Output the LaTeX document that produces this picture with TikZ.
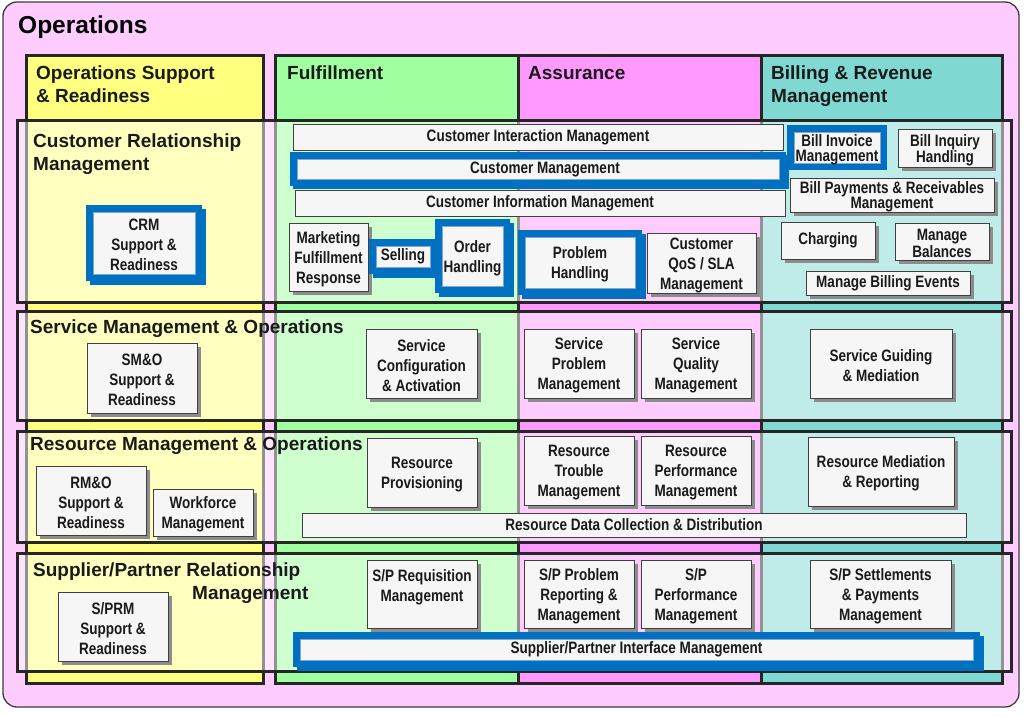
\documentclass[tikz,border=0pt]{standalone}
\usepackage{fontspec}
\setmainfont{Liberation Sans}
\newfontfamily\narrowfont{Liberation Sans}[FakeStretch=0.82]
\usetikzlibrary{shadows}
\definecolor{outerc}{HTML}{FFCCFF}
\definecolor{osrc}{HTML}{FFFF80}
\definecolor{fulc}{HTML}{A0FFA0}
\definecolor{assc}{HTML}{FF99FF}
\definecolor{billc}{HTML}{7FD8D2}
\definecolor{linec}{HTML}{262626}
\definecolor{boxline}{HTML}{404040}
\definecolor{boxfill}{HTML}{F6F6F6}
\definecolor{shadowc}{HTML}{8C8C8C}
\definecolor{textc}{HTML}{1A1A1A}
\definecolor{bluec}{HTML}{0070C0}
\definecolor{wline}{HTML}{7FA8D8}
\newcommand\nfont{\narrowfont\bfseries\fontsize{16.5}{20}\selectfont}
\newcommand\tfont{\narrowfont\bfseries\fontsize{16.5}{15}\selectfont}
\let\curfont\nfont
\def\curshift{-2pt}
\newcommand\bx[7][pbox]{%
  \global\let\curfont\nfont \gdef\curshift{-2pt}%
  \node[#1,minimum width={(#5-#3)*1pt},minimum height={(#6-#4)*1pt}] (#2) at ({(#3+#5)/2},{(#4+#6)/2}) {};
  \node[btext,font=\curfont] (#2-t) at ([yshift=\curshift]#2.center) {#7};}
\newcommand\bbx[8][wbox]{%
  \global\let\curfont\nfont \gdef\curshift{-2pt}%
  \fill[bluec] ({#3-7},{#4-7}) rectangle ({#5+7},{#6+7});
  \fill[bluec] ({#3-7+#8},{#4-7+#8}) rectangle ({#5+7+#8},{#6+7+#8});
  \node[#1,minimum width={(#5-#3)*1pt},minimum height={(#6-#4)*1pt}] (#2) at ({(#3+#5)/2},{(#4+#6)/2}) {};
  \node[btext,font=\curfont] (#2-t) at ([yshift=\curshift]#2.center) {#7};}
\begin{document}
\begin{tikzpicture}[x=1pt,y=-1pt,
  colbox/.style={draw=linec,line width=3pt},
  rowbox/.style={draw=linec,line width=3pt,fill=white,fill opacity=0.5},
  head/.style={anchor=base west,inner sep=0pt,text=textc,font=\bfseries\fontsize{19}{23}\selectfont},
  cbox/.style={draw=boxline,line width=0.7pt,fill=boxfill,inner sep=0pt},
  pbox/.style={cbox,drop shadow={shadow xshift=4pt,shadow yshift=-4pt,fill=shadowc,opacity=1}},
  tight/.code={\global\let\curfont\tfont},
  sl/.code={\gdef\curshift{0pt}},
  wbox/.style={cbox,draw=wline,line width=0.6pt},
  btext/.style={text=textc,align=center,inner sep=0pt}]
\useasboundingbox (0,0) rectangle (1024,715);
\fill[white] (0,0) rectangle (1024,715);
% outer frame
\draw[fill=outerc,draw=linec!90,line width=1.3pt,rounded corners=14pt] (3,2) rectangle (1019,707);
\node[anchor=base west,inner sep=0pt,text=black,font=\bfseries\fontsize{24.5}{28}\selectfont] (title) at (18,33) {Operations};
% columns
\draw[colbox,fill=osrc] (26,55) rectangle (263,683);
\draw[colbox,fill=fulc] (275,55) rectangle (518,683);
\draw[colbox,fill=assc] (518,55) rectangle (761,683);
\draw[colbox,fill=billc] (761,55) rectangle (1002,683);
% rows
\draw[rowbox] (17,120) rectangle (1011,302);
\draw[rowbox] (17,311) rectangle (1011,420);
\draw[rowbox] (17,431) rectangle (1011,542);
\draw[rowbox] (17,553) rectangle (1011,671);
% headings
\node[head] (hosr1) at (36,79) {Operations Support};
\node[head] (hosr2) at (36,102) {\& Readiness};
\node[head] (hful) at (287,79) {Fulfillment};
\node[head] (hass) at (528,79) {Assurance};
\node[head] (hbrm1) at (771,79) {Billing \& Revenue};
\node[head] (hbrm2) at (771,102) {Management};
\node[head] (rcrm1) at (33,147) {Customer Relationship};
\node[head] (rcrm2) at (33,170) {Management};
\node[head] (rsmo) at (30,333) {Service Management \& Operations};
\node[head] (rrmo) at (30,450) {Resource Management \& Operations};
\node[head] (rspr1) at (33,576) {Supplier/Partner Relationship};
\node[head] (rspr2) at (192,599) {Management};
% CRM row
\bx[cbox,sl]{cim}{293}{124}{783}{150}{Customer Interaction Management}
\bbx[wbox,sl]{cm}{297}{159}{779}{179}{\hspace*{14pt}Customer Management}{3}
\bx[cbox,sl]{cinf}{295}{190}{785}{216}{Customer Information Management}
\bx{mfr}{289}{223}{368}{291}{Marketing\\Fulfillment\\Response}
\bbx[wbox,sl]{sell}{376}{246}{430}{267}{Selling}{4}
\bbx{oh}{442}{226}{503}{286}{Order\\Handling}{4}
\bbx{ph}{525}{237}{635}{288}{Problem\\Handling}{4}
\bx{qos}{647}{233}{756}{293}{Customer\\QoS / SLA\\Management}
\bbx[wbox,tight]{bim}{794}{132}{880}{163}{Bill Invoice\\Management}{0}
\bx[pbox,tight]{bih}{898}{129}{992}{167}{Bill Inquiry\\Handling}
\bx[pbox,tight]{bpr}{790}{178}{994}{212}{Bill Payments \& Receivables\\Management}
\bx[pbox,sl]{chg}{781}{222}{875}{259}{Charging}
\bx[pbox,tight]{mb}{895}{223}{989}{260}{Manage\\Balances}
\bx[pbox,sl]{mbe}{806}{271}{970}{295}{Manage Billing Events}
\bbx{crmsr}{93}{212}{195}{274}{CRM\\Support \&\\Readiness}{4}
% SM&O row
\bx{smosr}{87}{343}{197}{413}{SM\&O\\Support \&\\Readiness}
\bx{sca}{366}{329}{477}{398}{Service\\Configuration\\\& Activation}
\bx{spm}{524}{329}{634}{398}{Service\\Problem\\Management}
\bx{sqm}{641}{329}{751}{398}{Service\\Quality\\Management}
\bx{sgm}{810}{329}{952}{398}{Service Guiding\\\& Mediation}
% RM&O row
\bx{rmosr}{36}{466}{146}{535}{RM\&O\\Support \&\\Readiness}
\bx{wfm}{153}{489}{253}{536}{Workforce\\Management}
\bx{rp}{367}{438}{477}{507}{Resource\\Provisioning}
\bx[cbox,sl]{rdcd}{302}{513}{966}{537}{Resource Data Collection \& Distribution}
\bx{rtm}{524}{436}{634}{505}{Resource\\Trouble\\Management}
\bx{rpm}{641}{436}{751}{505}{Resource\\Performance\\Management}
\bx{rmr}{808}{437}{954}{506}{Resource Mediation\\\& Reporting}
% S/PRM row
\bx{sprmsr}{58}{592}{168}{661}{S/PRM\\Support \&\\Readiness}
\bx{sprq}{367}{560}{477}{628}{S/P Requisition\\Management\\\mbox{}}
\bx{spprm}{524}{560}{634}{628}{S/P Problem\\Reporting \&\\Management}
\bx{sppm}{641}{560}{751}{628}{S/P\\Performance\\Management}
\bx{spsp}{810}{560}{951}{628}{S/P Settlements\\\& Payments\\Management}
\bbx[wbox,sl]{spim}{300}{639}{973}{660}{Supplier/Partner Interface Management}{4}
\end{tikzpicture}
\end{document}
